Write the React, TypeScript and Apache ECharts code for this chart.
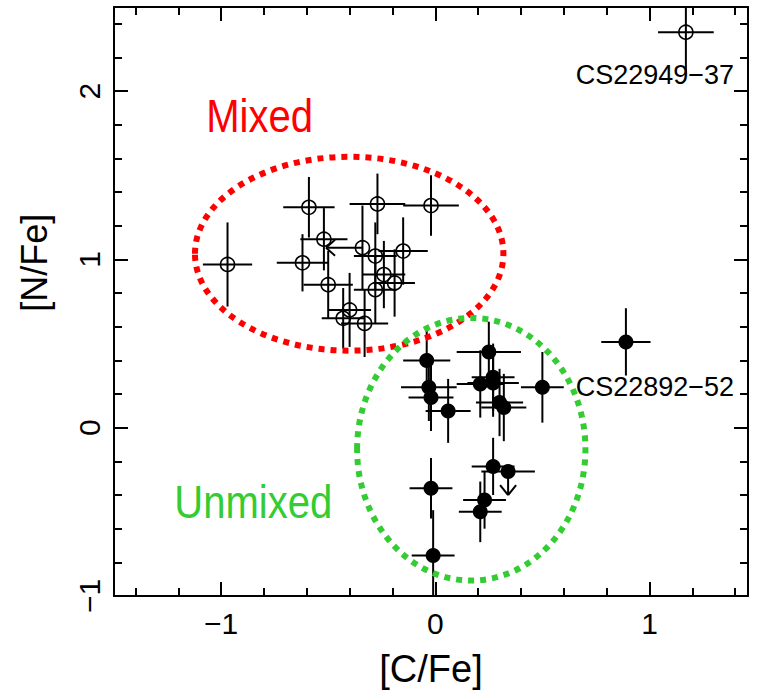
import React, { useEffect, useRef } from "react";
import * as echarts from "echarts";

// Axis ranges and ticks
const X_MIN = -1.5;
const X_MAX = 1.46;
const Y_MIN = -1;
const Y_MAX = 2.5;
const xMajorTicks = [-1, 0, 1];
const xMinorTicks = [-1.4, -1.2, -0.8, -0.6, -0.4, -0.2, 0.2, 0.4, 0.6, 0.8, 1.2, 1.4];
const yMajorTicks = [-1, 0, 1, 2];
const yMinorTicks = [-0.8, -0.6, -0.4, -0.2, 0.2, 0.4, 0.6, 0.8, 1.2, 1.4, 1.6, 1.8, 2.2, 2.4];

// limit codes: 0 = none, 1 = upper limit in [C/Fe] (arrow left), 2 = upper limit in [N/Fe] (arrow down)
// Mixed stars (open circles)
const mixedCFe = [-0.97, -0.59, -0.52, -0.34, -0.62, -0.27, -0.02, -0.28, -0.15, -0.24, -0.19, -0.28, -0.5, -0.4, -0.43, -0.33, 1.17];
const mixedNFe = [0.97, 1.31, 1.12, 1.07, 0.98, 1.33, 1.32, 1.02, 1.05, 0.91, 0.86, 0.82, 0.85, 0.7, 0.65, 0.62, 2.35];
const mixedCErr = [0.115, 0.12, 0.11, 0, 0.12, 0.13, 0.13, 0.1, 0.115, 0.1, 0.095, 0.1, 0.115, 0.1, 0.1, 0.11, 0.13];
const mixedNErr = [0.25, 0.18, 0.185, 0.25, 0.17, 0.18, 0.18, 0.2, 0.2, 0.2, 0.2, 0.2, 0.2, 0.22, 0.18, 0.2, 0.24];
const mixedLimit = [0, 0, 0, 1, 0, 0, 0, 0, 0, 0, 0, 0, 0, 0, 0, 0, 0];
const mixedNames = ["", "", "", "", "", "", "", "", "", "", "", "", "", "", "", "", "CS22949−37"];

// Unmixed stars (filled circles)
const unmixedCFe = [-0.04, -0.03, -0.02, 0.06, 0.25, 0.21, 0.27, 0.27, 0.3, 0.32, 0.5, 0.89, 0.27, 0.34, -0.02, 0.23, 0.21, -0.01];
const unmixedNFe = [0.4, 0.24, 0.18, 0.1, 0.45, 0.26, 0.3, 0.265, 0.15, 0.12, 0.24, 0.51, -0.23, -0.26, -0.36, -0.43, -0.5, -0.76];
const unmixedCErr = [0.11, 0.13, 0.105, 0.105, 0.15, 0.11, 0.1, 0.12, 0.11, 0.105, 0.1, 0.115, 0.1, 0.125, 0.1, 0.1, 0.1, 0.1];
const unmixedNErr = [0.2, 0.2, 0.2, 0.19, 0.18, 0.2, 0.2, 0.2, 0.2, 0.2, 0.21, 0.2, 0.17, 0, 0.18, 0.17, 0.18, 0.27];
const unmixedLimit = [0, 0, 0, 0, 0, 0, 0, 0, 0, 0, 0, 0, 0, 2, 0, 0, 0, 0];
const unmixedNames = ["", "", "", "", "", "", "", "", "", "", "", "CS22892−52", "", "", "", "", "", ""];

const FONT = "'Liberation Sans', Arial, sans-serif";
const fmt = (v: number) => String(v).replace("-", "−");

const labelOffsets: Record<string, number[]> = {
  "CS22949−37": [-31, 43],
  "CS22892−52": [29, 45],
};

function errRows(xs: number[], ys: number[], ex: number[], ey: number[], lim: number[]) {
  return xs.map((x, i) => [x, ys[i], ex[i], ey[i], lim[i]]);
}

function scatterData(xs: number[], ys: number[], names: string[]) {
  return xs.map((x, i) => {
    const item: any = { value: [x, ys[i]] };
    if (names[i]) {
      item.label = {
        show: true,
        formatter: names[i],
        position: "inside",
        offset: labelOffsets[names[i]],
        color: "#000",
        opacity: 1,
        textBorderWidth: 0,
        fontFamily: FONT,
        fontSize: 27,
      };
    }
    return item;
  });
}

const renderErr = (params: any, api: any) => {
  const x = api.value(0);
  const y = api.value(1);
  const ex = api.value(2);
  const ey = api.value(3);
  const lim = api.value(4);
  const style = { stroke: "#000", lineWidth: 2, fill: "none" };
  const children: any[] = [];
  const seg = (p: number[], q: number[]) =>
    children.push({ type: "line", shape: { x1: p[0], y1: p[1], x2: q[0], y2: q[1] }, style });
  const c = api.coord([x, y]);
  if (ex > 0) seg(api.coord([x - ex, y]), api.coord([x + ex, y]));
  if (ey > 0) seg(api.coord([x, Math.max(y - ey, Y_MIN)]), api.coord([x, Math.min(y + ey, Y_MAX)]));
  if (lim === 1) {
    const tip = api.coord([x - 0.17, y]);
    seg(c, tip);
    seg(tip, [tip[0] + 9, tip[1] - 8]);
    seg(tip, [tip[0] + 9, tip[1] + 8]);
  } else if (lim === 2) {
    const tip = api.coord([x, y - 0.14]);
    seg(c, tip);
    seg(tip, [tip[0] - 8, tip[1] - 10]);
    seg(tip, [tip[0] + 8, tip[1] - 10]);
  }
  return { type: "group", children };
};

const lineStyle = { color: "#000", width: 2 };

function xAxisDef(position: string, ticks: number[], len: number, withLine: boolean, withLabel: boolean) {
  const a: any = {
    type: "value",
    min: X_MIN,
    max: X_MAX,
    position,
    splitLine: { show: false },
    axisLine: { show: withLine, onZero: false, lineStyle },
    axisTick: { show: true, inside: true, length: len, customValues: ticks, lineStyle },
    axisLabel: { show: false },
  };
  if (withLabel) {
    a.axisLabel = {
      show: true,
      customValues: ticks,
      formatter: fmt,
      color: "#000",
      fontFamily: FONT,
      fontSize: 30,
      margin: 12,
    };
    a.name = "[C/Fe]";
    a.nameLocation = "middle";
    a.nameGap = 54;
    a.nameTextStyle = { color: "#000", fontFamily: FONT, fontSize: 38 };
  }
  return a;
}

function yAxisDef(position: string, ticks: number[], len: number, withLine: boolean, withLabel: boolean) {
  const a: any = {
    type: "value",
    min: Y_MIN,
    max: Y_MAX,
    position,
    splitLine: { show: false },
    axisLine: { show: withLine, onZero: false, lineStyle },
    axisTick: { show: true, inside: true, length: len, customValues: ticks, lineStyle },
    axisLabel: { show: false },
  };
  if (withLabel) {
    a.axisLabel = {
      show: true,
      customValues: ticks,
      formatter: fmt,
      rotate: 90,
      color: "#000",
      fontFamily: FONT,
      fontSize: 30,
      margin: 10,
    };
  }
  return a;
}

const option: any = {
  animation: false,
  backgroundColor: "#fff",
  grid: { left: 114, right: 12, top: 7, bottom: 104, containLabel: false },
  xAxis: [
    xAxisDef("bottom", xMajorTicks, 14, true, true),
    xAxisDef("bottom", xMinorTicks, 8, false, false),
    xAxisDef("top", xMajorTicks, 14, true, false),
    xAxisDef("top", xMinorTicks, 8, false, false),
  ],
  yAxis: [
    yAxisDef("left", yMajorTicks, 14, true, true),
    yAxisDef("left", yMinorTicks, 8, false, false),
    yAxisDef("right", yMajorTicks, 14, true, false),
    yAxisDef("right", yMinorTicks, 8, false, false),
  ],
  series: [
    {
      type: "custom",
      name: "Mixed errors",
      xAxisIndex: 0,
      yAxisIndex: 0,
      renderItem: renderErr,
      data: errRows(mixedCFe, mixedNFe, mixedCErr, mixedNErr, mixedLimit),
      z: 2,
      silent: true,
    },
    {
      type: "custom",
      name: "Unmixed errors",
      xAxisIndex: 0,
      yAxisIndex: 0,
      renderItem: renderErr,
      data: errRows(unmixedCFe, unmixedNFe, unmixedCErr, unmixedNErr, unmixedLimit),
      z: 2,
      silent: true,
    },
    {
      type: "scatter",
      name: "Mixed",
      xAxisIndex: 0,
      yAxisIndex: 0,
      symbol: "circle",
      symbolSize: 14,
      itemStyle: { color: "rgba(0,0,0,0)", borderColor: "#000", borderWidth: 1.6, opacity: 1 },
      data: scatterData(mixedCFe, mixedNFe, mixedNames),
      z: 3,
    },
    {
      type: "scatter",
      name: "Unmixed",
      xAxisIndex: 0,
      yAxisIndex: 0,
      symbol: "circle",
      symbolSize: 15,
      itemStyle: { color: "#000", opacity: 1 },
      data: scatterData(unmixedCFe, unmixedNFe, unmixedNames),
      z: 3,
    },
  ],
};

export default function App() {
  const ref = useRef<HTMLDivElement>(null);
  useEffect(() => {
    document.body.style.margin = "0";
    const chart = echarts.init(ref.current!, null, { renderer: "svg" });
    chart.setOption(option);
    const px = (p: number[]) => chart.convertToPixel({ xAxisIndex: 0, yAxisIndex: 0 }, p) as number[];
    const ellipse = (cx: number, cy: number, rx: number, ry: number, color: string) => {
      const c = px([cx, cy]);
      const ex = px([cx + rx, cy]);
      const ey = px([cx, cy + ry]);
      return {
        type: "ellipse",
        z: 10,
        silent: true,
        shape: { cx: c[0], cy: c[1], rx: Math.abs(ex[0] - c[0]), ry: Math.abs(ey[1] - c[1]) },
        style: { fill: "none", stroke: color, lineWidth: 6, lineDash: [6, 6] },
      };
    };
    const label = (x: number, y: number, text: string, color: string) => {
      const p = px([x, y]);
      return {
        type: "text",
        z: 11,
        x: p[0],
        y: p[1],
        scaleX: 0.87,
        style: { text, fill: color, fontFamily: FONT, fontSize: 46, align: "center", verticalAlign: "middle" },
      };
    };
    const yName = px([X_MIN, 0.98]);
    chart.setOption({
      graphic: [
        ellipse(-0.402, 1.034, 0.72, 0.576, "#ff0000"),
        ellipse(0.168, -0.128, 0.533, 0.78, "#33cc33"),
        label(-0.82, 1.85, "Mixed", "#ff0000"),
        label(-0.85, -0.44, "Unmixed", "#33cc33"),
        {
          type: "text",
          x: yName[0] - 80,
          y: yName[1],
          rotation: Math.PI / 2,
          style: { text: "[N/Fe]", fill: "#000", fontFamily: FONT, fontSize: 36, align: "center", verticalAlign: "middle" },
        },
      ],
    });
    return () => chart.dispose();
  }, []);
  return <div ref={ref} style={{ width: 760, height: 700 }} />;
}
